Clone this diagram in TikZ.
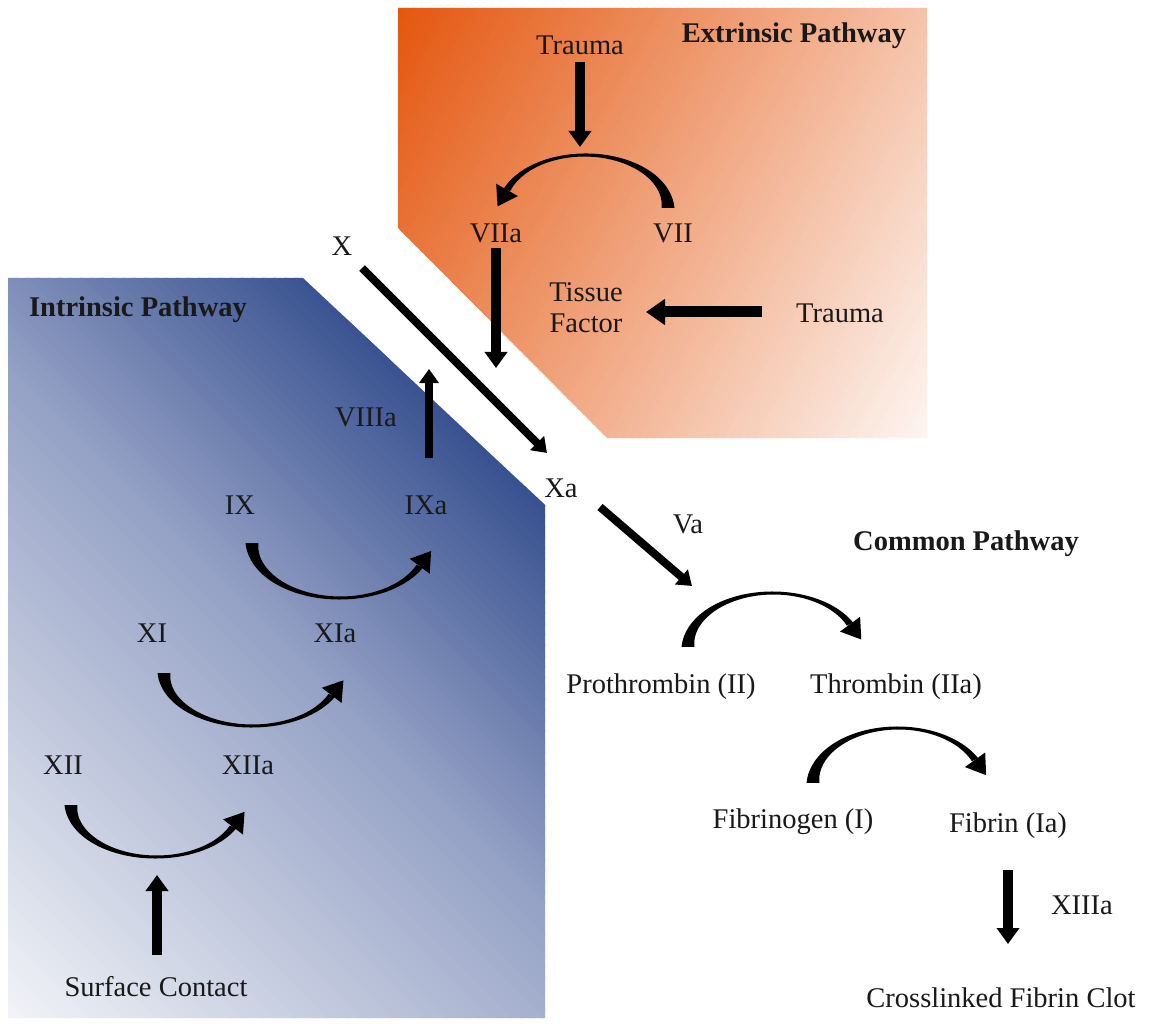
\documentclass[tikz,border=0pt]{standalone}
\usepackage{fontspec}
\setmainfont{Liberation Serif}
\usetikzlibrary{arrows.meta,calc}
\definecolor{ordark}{RGB}{228,86,14}
\definecolor{orlight}{RGB}{253,245,241}
\definecolor{bldark}{RGB}{50,76,140}
\definecolor{blmid}{RGB}{150,162,198}
\definecolor{bllight}{RGB}{242,244,248}
\definecolor{txt}{RGB}{25,25,25}
\newcommand\taparc[6]{%
  \begin{scope}[shift={(#1)}]
  \fill[black] plot[variable=\t,domain=0:1,samples=60] ({(#2+wd(\t)/2)*cos(#4+(#5-#4)*\t)},{(#3+wd(\t)/2)*sin(#4+(#5-#4)*\t)})
   -- plot[variable=\t,domain=1:0,samples=60] ({(#2-wd(\t)/2)*cos(#4+(#5-#4)*\t)},{(#3-wd(\t)/2)*sin(#4+(#5-#4)*\t)}) -- cycle;
  \coordinate (#1P) at ({#2*cos(#5)},{#3*sin(#5)});
  \coordinate (#1Q) at ({#2*cos(#5)+(#6)*(-1)*#2*sin(#5)},{#3*sin(#5)+(#6)*#3*cos(#5)});
  \fill[black] ($(#1P)!12.5pt!90:(#1Q)$) -- ($(#1P)!19pt!(#1Q)$) -- ($(#1P)!12.5pt!-90:(#1Q)$) -- cycle;
  \end{scope}}
\begin{document}
\begin{tikzpicture}[x=1pt,y=-1pt,
  lbl/.style={font=\fontsize{28.5}{31}\selectfont, text=txt, inner sep=1pt, align=center},
  hdr/.style={lbl, font=\fontsize{28.5}{31}\selectfont\bfseries},
  arrA/.style={line width=10pt, -{Triangle[length=16pt,width=22pt]}},
  arrB/.style={line width=8pt, -{Triangle[length=14pt,width=19pt]}},
  arrC/.style={line width=11pt, -{Triangle[length=19pt,width=25pt]}},
  declare function={wd(\t)=26.67*\t*\t-32.67*\t+13;}]
% canvas
\fill[white] (0,0) rectangle (1157,1024);
% extrinsic region: linear gradient from the top-left corner
\begin{scope}
  \clip (398,8) -- (927,8) -- (927,438) -- (607,438) -- (398,228) -- cycle;
  \foreach \i in {0,...,99}{
    \pgfmathsetmacro\ta{\i*6.73-1}
    \pgfmathsetmacro\tb{(\i+1)*6.73+1}
    \pgfmathsetmacro\pc{100-100*(\i+0.5)/100}
    \fill[ordark!\pc!orlight]
      ({398+\ta*0.866-1000*0.5},{8+\ta*0.5+1000*0.866}) --
      ({398+\tb*0.866-1000*0.5},{8+\tb*0.5+1000*0.866}) --
      ({398+\tb*0.866+1000*0.5},{8+\tb*0.5-1000*0.866}) --
      ({398+\ta*0.866+1000*0.5},{8+\ta*0.5-1000*0.866}) -- cycle;
  }
\end{scope}
% intrinsic region: gradient from the diagonal edge towards the bottom-left
\begin{scope}
  \clip (8,278) -- (303,278) -- (545,505) -- (545,1018) -- (8,1018) -- cycle;
  \foreach \i in {0,...,99}{
    \pgfmathsetmacro\ta{-15+\i*7.6-1}
    \pgfmathsetmacro\tb{-15+(\i+1)*7.6+1}
    \pgfmathsetmacro\f{(\i+0.5)/100}
    \ifdim\f pt<0.4pt
      \pgfmathsetmacro\pc{100*(1-\f/0.4)}\def\cc{bldark!\pc!blmid}
    \else
      \pgfmathsetmacro\pc{100*(1-(\f-0.4)/0.6)}\def\cc{blmid!\pc!bllight}
    \fi
    \fill[\cc]
      ({545-\ta*0.7071+1000*0.7071},{505+\ta*0.7071+1000*0.7071}) --
      ({545-\tb*0.7071+1000*0.7071},{505+\tb*0.7071+1000*0.7071}) --
      ({545-\tb*0.7071-1000*0.7071},{505+\tb*0.7071-1000*0.7071}) --
      ({545-\ta*0.7071-1000*0.7071},{505+\ta*0.7071-1000*0.7071}) -- cycle;
  }
\end{scope}

% labels
\node[lbl] (trauma1) at (580,45) {Trauma};
\node[hdr] (extr) at (794,36) {Extrinsic Pathway};
\node[lbl] (VIIa) at (496,233) {VIIa};
\node[lbl] (VII) at (673,233) {VII};
\node[lbl] (tf) at (586,308) {Tissue\\Factor};
\node[lbl] (trauma2) at (840,313) {Trauma};
\node[lbl] (X) at (342,246) {X};
\node[lbl] (Xa) at (561,488) {Xa};
\node[lbl] (Va) at (688,524) {Va};
\node[hdr] (common) at (966,544) {Common Pathway};
\node[hdr] (intr) at (138,310) {Intrinsic Pathway};
\node[lbl] (VIIIa) at (366,417) {VIIIa};
\node[lbl] (IX) at (240,505) {IX};
\node[lbl] (IXa) at (426,505) {IXa};
\node[lbl] (XI) at (152,633) {XI};
\node[lbl] (XIa) at (335,633) {XIa};
\node[lbl] (XII) at (63,765) {XII};
\node[lbl] (XIIa) at (248,765) {XIIa};
\node[lbl] (surf) at (156,987) {Surface Contact};
\node[lbl] (proth) at (661,687) {Prothrombin (II)};
\node[lbl] (thromb) at (896,687) {Thrombin (IIa)};
\node[lbl] (fibgen) at (793,822) {Fibrinogen (I)};
\node[lbl] (fibrin) at (1008,826) {Fibrin (Ia)};
\node[lbl] (XIIIa) at (1082,905) {XIIIa};
\node[lbl] (clot) at (1001,998) {Crosslinked Fibrin Clot};

% arc centres
\coordinate (cVII) at (585,208);
\coordinate (cIX) at (340,543);
\coordinate (cXI) at (252,673);
\coordinate (cXII) at (156,805);
\coordinate (cII) at (773,647);
\coordinate (cI) at (898,783);

% curved conversion arrows
\taparc{cVII}{83}{53}{360}{200}{-1}
\taparc{cIX}{88}{55}{180}{25}{-1}
\taparc{cXI}{88}{53}{180}{25}{-1}
\taparc{cXII}{85}{52}{180}{25}{-1}
\taparc{cII}{85}{54}{180}{335}{1}
\taparc{cI}{85}{55}{180}{335}{1}

% straight arrows
\coordinate (t1end) at (580,147);
\coordinate (VIIaend) at (496,368);
\coordinate (tfend) at (646,312);
\coordinate (t2start) at (762,312);
\coordinate (Xstart) at (362,268);
\coordinate (Xend) at (547,453);
\coordinate (Vastart) at (600,507);
\coordinate (Vaend) at (692,586);
\coordinate (IXastart) at (429,458);
\coordinate (IXaend) at (429,369);
\coordinate (scstart) at (157,955);
\coordinate (scend) at (157,875);
\coordinate (fbstart) at (1008,870);
\coordinate (fbend) at (1008,944);

\draw[arrA] (trauma1.south) ++(0,6) -- (t1end);
\draw[arrA] (VIIa.south) ++(0,4) -- (VIIaend);
\draw[arrC] (t2start) -- (tfend);
\draw[arrB] (Xstart) -- (Xend);
\draw[arrB] (Vastart) -- (Vaend);
\draw[arrB] (IXastart) -- (IXaend);
\draw[arrA] (scstart) -- (scend);
\draw[arrA] (fbstart) -- (fbend);
\end{tikzpicture}
\end{document}
